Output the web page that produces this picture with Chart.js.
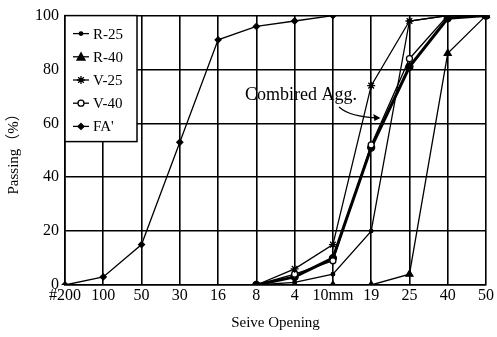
<!DOCTYPE html>
<html>
<head>
<meta charset="utf-8">
<script src="https://cdn.jsdelivr.net/npm/chart.js@4.4.0/dist/chart.umd.min.js"></script>
<style>
  html, body { margin: 0; padding: 0; background: #fff; }
  #wrap { width: 497px; height: 337px; }
</style>
</head>
<body>
<div id="wrap"><canvas id="grading"></canvas></div>
<script>
// sieve sizes (x axis) and % passing per mix
const sieveLabels = ['#200', '100', '50', '30', '16', '8', '4', '10mm', '19', '25', '40', '50'];
const faPassing   = [0, 3, 15, 53, 91, 96, 98, 100, null, null, null, null];
const r25Passing  = [null, null, null, null, null, 0, 1, 4, 20, 98, 100, 100];
const r40Passing  = [null, null, null, null, null, 0, 0, 0, 0, 4, 86, 100];
const v25Passing  = [null, null, null, null, null, 0, 6, 15, 74, 98, 100, 100];
const v40Passing  = [null, null, null, null, null, 0, 4, 9, 52, 84, 100, 100];
const combPassing = [null, null, null, null, null, 0, 3, 10, 51, 81, 99, 100];
const yTicks = [0, 20, 40, 60, 80, 100];

const FONT = "'Liberation Serif', 'DejaVu Serif', 'Noto Sans CJK JP', serif";

// draw one marker (same style as the dataset)
function drawMarker(ctx, style, x, y, r, fill) {
    ctx.save();
    ctx.fillStyle = fill; ctx.strokeStyle = '#000'; ctx.lineWidth = 1.3;
    ctx.beginPath();
    if (style === 'triangle') {
        ctx.moveTo(x, y - r); ctx.lineTo(x + r, y + r * 0.8); ctx.lineTo(x - r, y + r * 0.8); ctx.closePath();
        ctx.fill(); ctx.stroke();
    } else if (style === 'star') {
        for (let i = 0; i < 4; i++) {
            const a = i * Math.PI / 4;
            ctx.moveTo(x - Math.cos(a) * r, y - Math.sin(a) * r);
            ctx.lineTo(x + Math.cos(a) * r, y + Math.sin(a) * r);
        }
        ctx.stroke();
    } else if (style === 'rectRot') {
        ctx.moveTo(x, y - r); ctx.lineTo(x + r, y); ctx.lineTo(x, y + r); ctx.lineTo(x - r, y); ctx.closePath();
        ctx.fill(); ctx.stroke();
    } else {
        ctx.arc(x, y, r, 0, Math.PI * 2);
        ctx.fill(); ctx.stroke();
    }
    ctx.restore();
}

// boxed legend inside top-left corner of the plot + "Combired Agg." note
const boxLegend = {
    id: 'boxLegend',
    afterDatasetsDraw(chart) {
        const { ctx, chartArea, scales } = chart;
        const bx = chartArea.left, by = chartArea.top, bw = 72, bh = 126;
        ctx.save();
        ctx.fillStyle = '#fff';
        ctx.fillRect(bx, by, bw, bh);
        ctx.strokeStyle = '#000'; ctx.lineWidth = 1.5;
        ctx.strokeRect(bx, by, bw, bh);
        ctx.font = '15px ' + FONT;
        ctx.textBaseline = 'middle';
        ctx.fillStyle = '#000';
        const items = chart.data.datasets.filter(d => d.inLegend);
        items.forEach((d, i) => {
            const y = by + 18 + i * 23.2;
            ctx.beginPath(); ctx.lineWidth = 1.3;
            ctx.moveTo(bx + 8, y); ctx.lineTo(bx + 24, y); ctx.stroke();
            drawMarker(ctx, d.pointStyle, bx + 16, y, d.pointRadius, d.pointBackgroundColor);
            ctx.fillStyle = '#000';
            ctx.fillText(d.label, bx + 28, y + 1);
        });

        // note for the combined grading curve
        const x19 = scales.x.getPixelForValue(8), x25 = scales.x.getPixelForValue(9);
        const tipX = x19 + (x25 - x19) * 0.24, tipY = scales.y.getPixelForValue(62);
        ctx.font = '18px ' + FONT;
        ctx.textAlign = 'left';
        ctx.fillText('Combired Agg.', 245, 95);
        ctx.beginPath(); ctx.lineWidth = 1.2;
        ctx.moveTo(339, 107);
        ctx.quadraticCurveTo(350, 117, tipX - 2, tipY);
        ctx.stroke();
        ctx.beginPath();
        ctx.moveTo(tipX, tipY); ctx.lineTo(tipX - 7, tipY - 4); ctx.lineTo(tipX - 6, tipY + 3); ctx.closePath();
        ctx.fill();
        ctx.restore();
    }
};

function series(label, data, style, radius, fill, width, inLegend) {
    return {
        label: label, data: data, inLegend: inLegend,
        borderColor: '#000', borderWidth: width,
        pointStyle: style, pointRadius: radius,
        pointBackgroundColor: fill, pointBorderColor: '#000', pointBorderWidth: 1.3,
        tension: 0, spanGaps: false, fill: false
    };
}

const ctx = document.getElementById('grading').getContext('2d');
new Chart(ctx, {
    type: 'line',
    data: {
        labels: sieveLabels,
        datasets: [
            series('R-25', r25Passing, 'circle', 1.8, '#000', 1.3, true),
            series('R-40', r40Passing, 'triangle', 4, '#000', 1.3, true),
            series('V-25', v25Passing, 'star', 4, '#000', 1.3, true),
            series('V-40', v40Passing, 'circle', 3, '#fff', 1.3, true),
            series("FA'", faPassing, 'rectRot', 3, '#000', 1.3, true),
            series('Combined Agg.', combPassing, 'circle', 3.5, '#000', 3, false)
        ]
    },
    options: {
        responsive: true,
        maintainAspectRatio: false,
        animation: false,
        layout: { padding: { top: 14, right: 11, left: 0, bottom: 3 } },
        plugins: { legend: { display: false }, tooltip: { enabled: false } },
        scales: {
            x: {
                grid: { color: '#000', lineWidth: 1.6, drawTicks: false },
                border: { color: '#000', width: 1.6 },
                ticks: { color: '#000', padding: 1, maxRotation: 0, autoSkip: false, font: { family: FONT, size: 16 } },
                title: { display: true, text: 'Seive Opening', color: '#000', font: { family: FONT, size: 15 }, padding: { top: 0, bottom: 2 } },
                afterFit: s => { s.height = 49; }
            },
            y: {
                min: 0, max: 100,
                afterBuildTicks: s => { s.ticks = yTicks.map(v => ({ value: v })); },
                grid: { color: '#000', lineWidth: 1.6, drawTicks: false },
                border: { color: '#000', width: 1.6 },
                ticks: { color: '#000', padding: 6, font: { family: FONT, size: 16 } },
                // wide (full-width) brackets as printed in the original
                title: { display: true, text: 'Passing\uFF08%\uFF09', color: '#000', font: { family: "'Liberation Serif', 'Noto Sans CJK JP', serif", size: 15 }, padding: { top: 5, bottom: 0 } },
                afterFit: s => { s.width = 65; }
            }
        }
    },
    plugins: [boxLegend]
});
</script>
</body>
</html>
